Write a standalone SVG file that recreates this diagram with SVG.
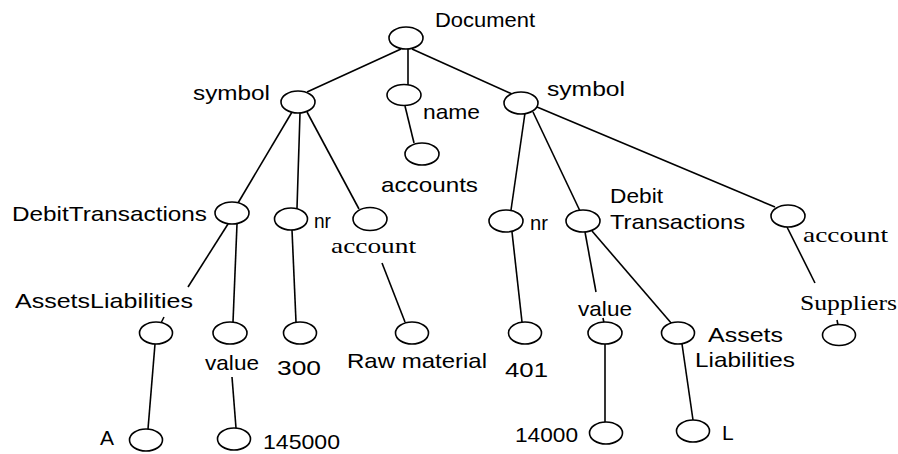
<svg xmlns="http://www.w3.org/2000/svg" width="898" height="454" viewBox="0 0 898 454">
<style>
.n{fill:#fff;stroke:#000;stroke-width:1.6}
.e line{stroke:#000;stroke-width:1.6}
.t{font-family:"Liberation Sans",Arial,sans-serif;font-size:21px;fill:#000}
.s{font-family:"Liberation Serif","Times New Roman",serif;font-size:21px;fill:#000}
</style>
<rect width="898" height="454" fill="#fff"/>
<g id="connectors" class="e">
<line x1="401" y1="49" x2="307" y2="92"/>
<line x1="408" y1="49" x2="408" y2="85"/>
<line x1="412" y1="49" x2="512" y2="94"/>
<line x1="405" y1="106" x2="414" y2="143"/>
<line x1="292" y1="112" x2="238" y2="203"/>
<line x1="300" y1="113" x2="297" y2="208"/>
<line x1="307" y1="112" x2="359" y2="209"/>
<line x1="525" y1="113" x2="511" y2="210"/>
<line x1="533" y1="112" x2="580" y2="211"/>
<line x1="537" y1="107" x2="775" y2="207"/>
<line x1="228" y1="224" x2="188" y2="287"/>
<line x1="164" y1="317" x2="161" y2="323"/>
<line x1="237" y1="224" x2="233" y2="322"/>
<line x1="155" y1="344" x2="148" y2="429"/>
<line x1="232" y1="377" x2="236" y2="428"/>
<line x1="292" y1="230" x2="296" y2="322"/>
<line x1="382" y1="263" x2="405" y2="322"/>
<line x1="512" y1="232" x2="522" y2="322"/>
<line x1="585" y1="232" x2="596" y2="292"/>
<line x1="603" y1="318" x2="604" y2="323"/>
<line x1="592" y1="231" x2="672" y2="324"/>
<line x1="787" y1="227" x2="815" y2="283"/>
<line x1="837" y1="320" x2="838" y2="325"/>
<line x1="605" y1="344" x2="605" y2="422"/>
<line x1="682" y1="344" x2="693" y2="420"/>
</g>
<g id="document"><ellipse class="n" cx="406" cy="38" rx="17" ry="11"/><text class="t" x="435" y="27" font-size="22" textLength="100" lengthAdjust="spacingAndGlyphs">Document</text></g>
<g id="symbol-left"><ellipse class="n" cx="298" cy="102" rx="17" ry="11"/><text class="t" x="193" y="100" textLength="77" lengthAdjust="spacingAndGlyphs">symbol</text></g>
<g id="name"><ellipse class="n" cx="404" cy="95" rx="17" ry="10.5"/><text class="t" x="423" y="119" textLength="57" lengthAdjust="spacingAndGlyphs">name</text></g>
<g id="symbol-right"><ellipse class="n" cx="521" cy="103" rx="17" ry="11"/><text class="t" x="547" y="96" textLength="78" lengthAdjust="spacingAndGlyphs">symbol</text></g>
<g id="accounts"><ellipse class="n" cx="422" cy="154" rx="17" ry="11"/><text class="t" x="381" y="192" textLength="97" lengthAdjust="spacingAndGlyphs">accounts</text></g>
<g id="debit-left"><ellipse class="n" cx="232" cy="213" rx="17" ry="11"/><text class="t" x="12" y="221" textLength="195" lengthAdjust="spacingAndGlyphs">DebitTransactions</text></g>
<g id="nr-left"><ellipse class="n" cx="291" cy="219" rx="16.5" ry="11"/><text class="t" x="314" y="228" textLength="17" lengthAdjust="spacingAndGlyphs">nr</text></g>
<g id="account-left"><ellipse class="n" cx="370" cy="219" rx="17" ry="11.5"/><text class="s" x="331" y="253" textLength="85" lengthAdjust="spacingAndGlyphs">account</text></g>
<g id="nr-right"><ellipse class="n" cx="506" cy="221" rx="17" ry="11"/><text class="t" x="530" y="230" textLength="18" lengthAdjust="spacingAndGlyphs">nr</text></g>
<g id="debit-right"><ellipse class="n" cx="583" cy="221" rx="17" ry="11"/><text class="t" x="610" y="203" textLength="53" lengthAdjust="spacingAndGlyphs">Debit</text><text class="t" x="610" y="229" textLength="135" lengthAdjust="spacingAndGlyphs">Transactions</text></g>
<g id="account-right"><ellipse class="n" cx="788" cy="216" rx="17" ry="11"/><text class="s" x="803" y="242" textLength="85" lengthAdjust="spacingAndGlyphs">account</text></g>
<g id="assetsliabilities-left"><ellipse class="n" cx="156" cy="333" rx="16.5" ry="11"/><text class="t" x="15" y="308" textLength="178" lengthAdjust="spacingAndGlyphs">AssetsLiabilities</text></g>
<g id="value-left"><ellipse class="n" cx="230" cy="333" rx="17" ry="11"/><text class="t" x="205" y="370" textLength="54" lengthAdjust="spacingAndGlyphs">value</text></g>
<g id="n300"><ellipse class="n" cx="300" cy="333" rx="16.5" ry="11"/><text class="t" x="277" y="375" font-size="27" textLength="44" lengthAdjust="spacingAndGlyphs">300</text></g>
<g id="raw-material"><ellipse class="n" cx="412" cy="333" rx="16.5" ry="11"/><text class="t" x="347" y="368" font-size="22" textLength="140" lengthAdjust="spacingAndGlyphs">Raw material</text></g>
<g id="n401"><ellipse class="n" cx="525" cy="333" rx="16.5" ry="11"/><text class="t" x="505" y="377" font-size="27" textLength="43" lengthAdjust="spacingAndGlyphs">401</text></g>
<g id="value-right"><ellipse class="n" cx="605" cy="333" rx="17" ry="11"/><text class="t" x="578" y="316" textLength="54" lengthAdjust="spacingAndGlyphs">value</text></g>
<g id="assetsliabilities-right"><ellipse class="n" cx="678" cy="333" rx="16.5" ry="11"/><text class="t" x="708" y="342" textLength="75" lengthAdjust="spacingAndGlyphs">Assets</text><text class="t" x="695" y="367" textLength="100" lengthAdjust="spacingAndGlyphs">Liabilities</text></g>
<g id="suppliers"><ellipse class="n" cx="839" cy="335" rx="16.5" ry="10.5"/><text class="s" x="800" y="310" textLength="97" lengthAdjust="spacingAndGlyphs">Suppliers</text></g>
<g id="a"><ellipse class="n" cx="146" cy="440" rx="16.5" ry="11"/><text class="t" x="100" y="445" font-size="23">A</text></g>
<g id="n145000"><ellipse class="n" cx="234" cy="439" rx="16.5" ry="11"/><text class="t" x="263" y="449" font-size="23" textLength="77" lengthAdjust="spacingAndGlyphs">145000</text></g>
<g id="n14000"><ellipse class="n" cx="606" cy="433" rx="16.5" ry="11"/><text class="t" x="515" y="442" font-size="23" textLength="63" lengthAdjust="spacingAndGlyphs">14000</text></g>
<g id="l"><ellipse class="n" cx="693" cy="431" rx="16.5" ry="11"/><text class="t" x="722" y="440" font-size="23">L</text></g>
</svg>
